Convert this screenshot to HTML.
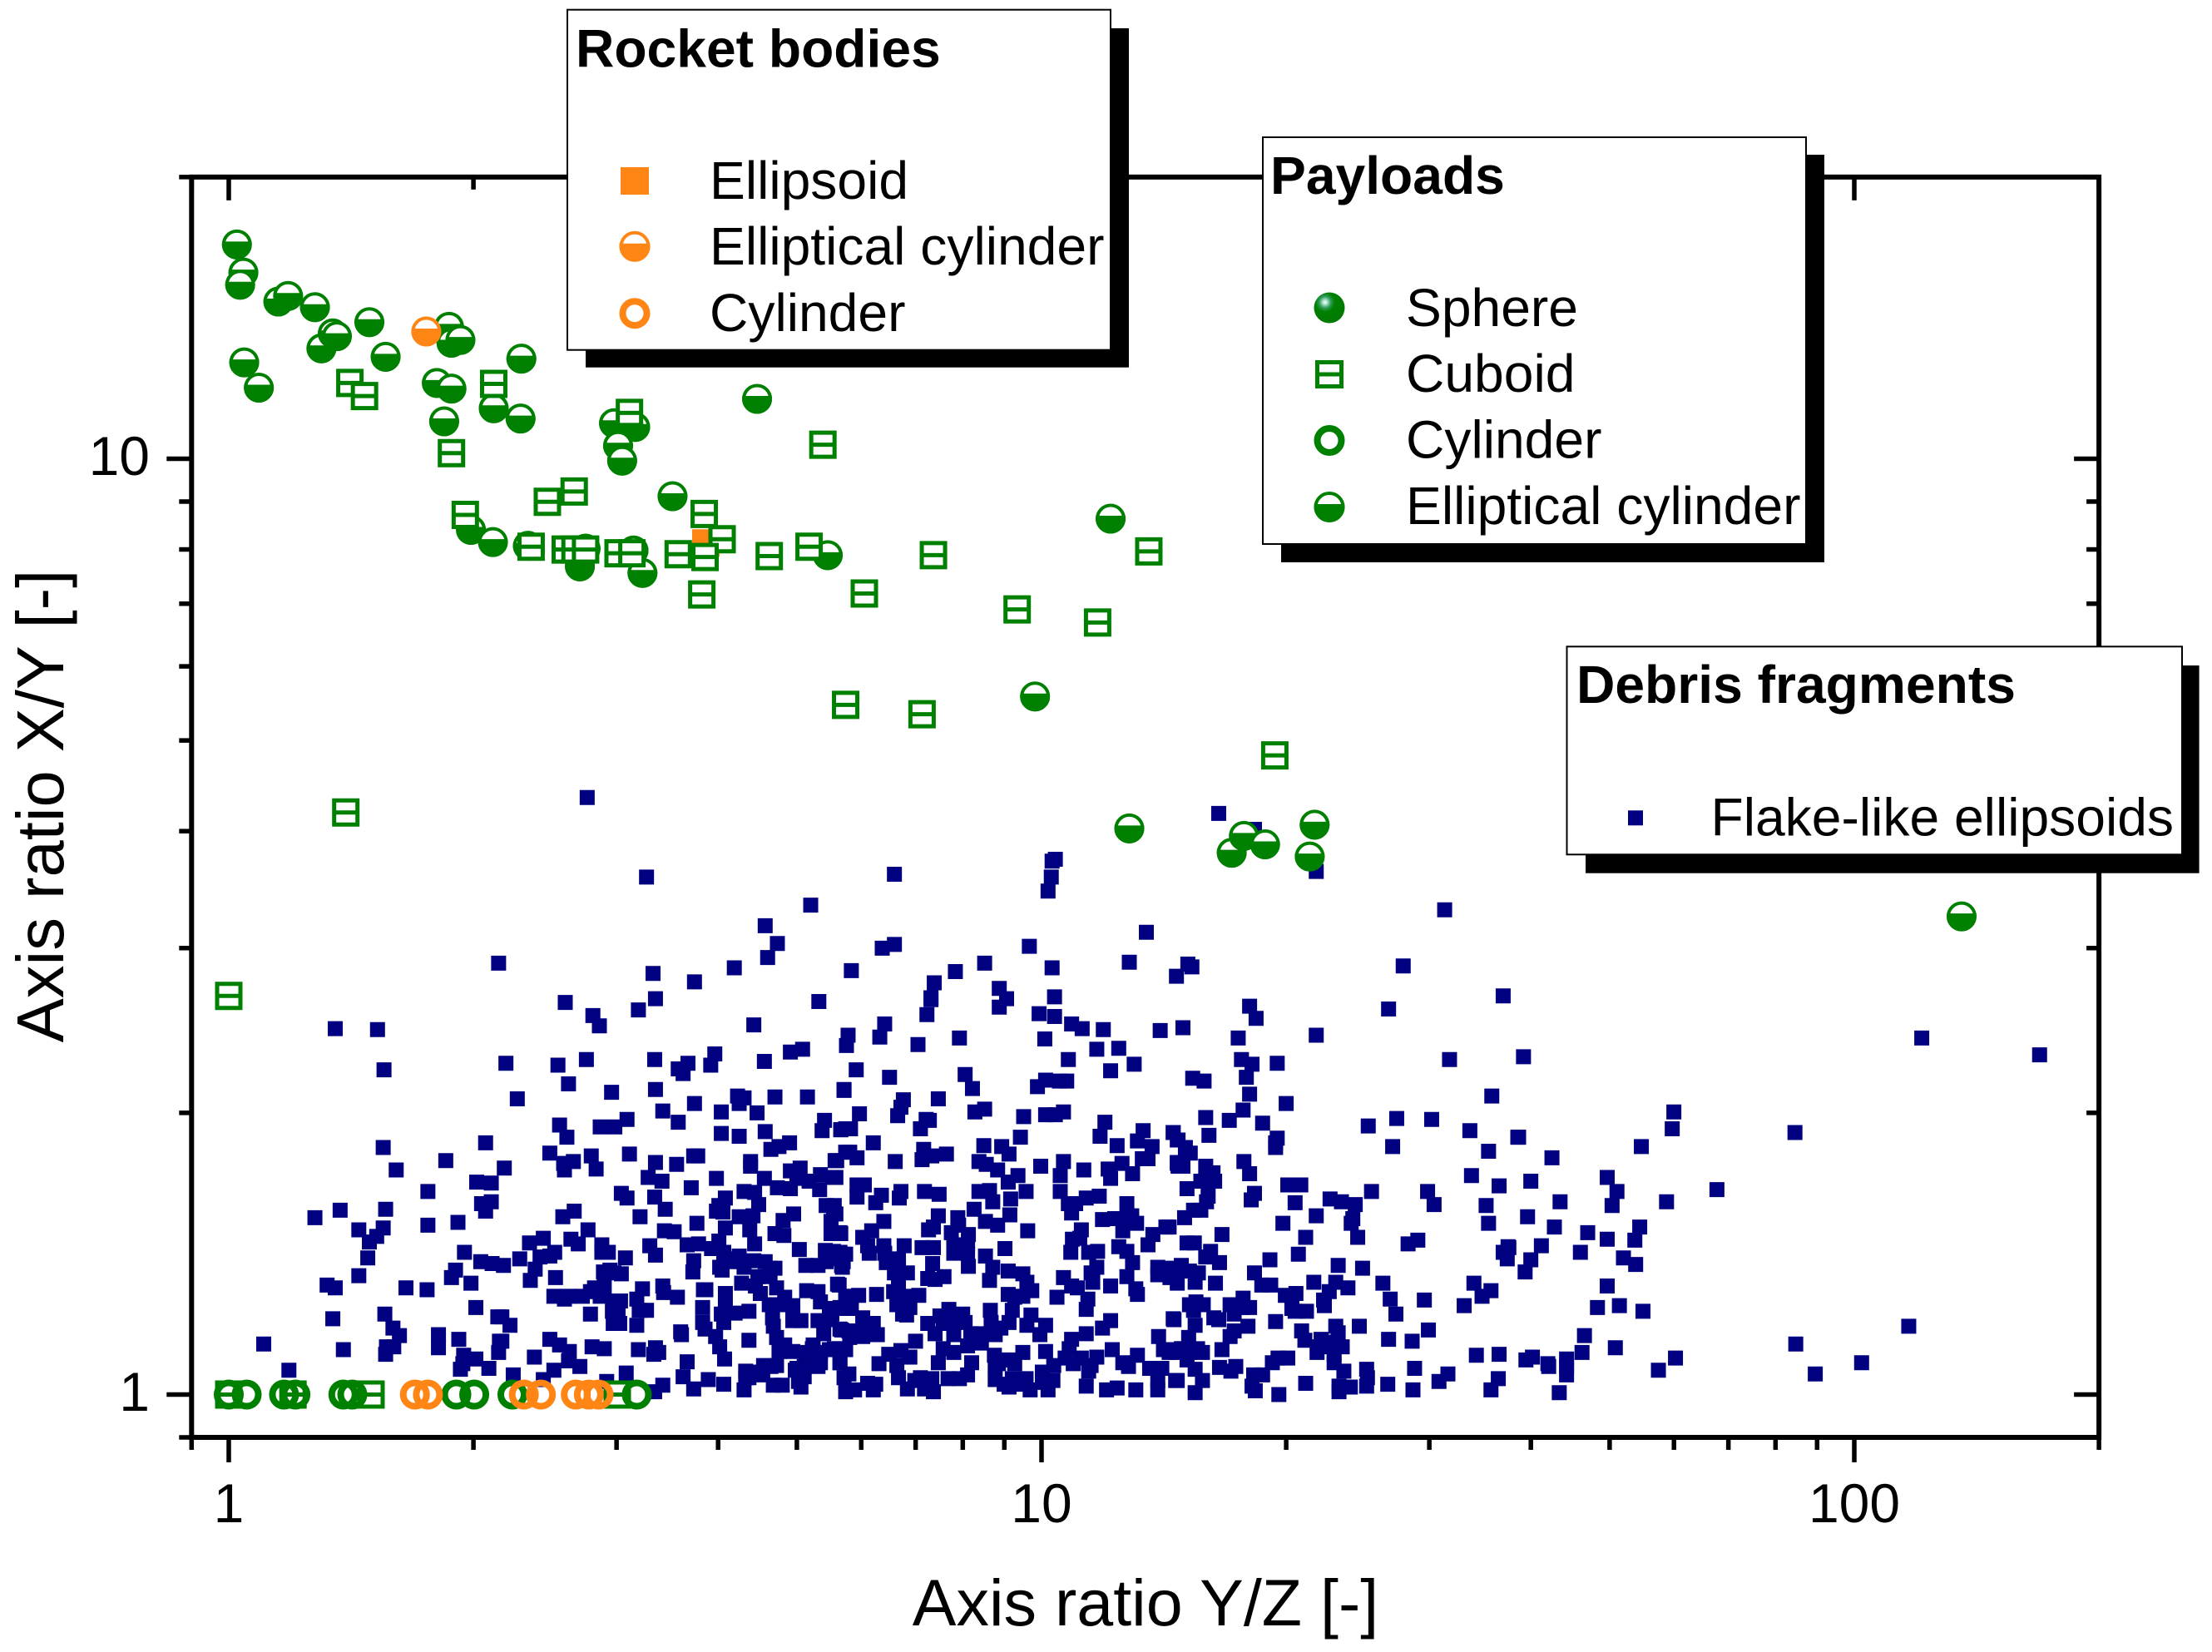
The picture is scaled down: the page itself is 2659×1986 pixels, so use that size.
<!DOCTYPE html>
<html lang="en">
<head>
<meta charset="utf-8">
<title>Axis ratio scatter chart</title>
<style>
html,body{margin:0;padding:0;background:#fff;}
svg{display:block;}
text{font-family:"Liberation Sans",Arial,sans-serif;fill:#000;}
</style>
</head>
<body>
<svg id="chart" xmlns="http://www.w3.org/2000/svg" width="2659" height="1986" viewBox="0 0 2659 1986">
<defs>
<radialGradient id="sphereShade" cx="0.36" cy="0.32" r="0.62">
<stop offset="0" stop-color="#ffffff"/>
<stop offset="0.14" stop-color="#9fdcc0"/>
<stop offset="0.3" stop-color="#2f9c5c"/>
<stop offset="0.5" stop-color="#008000"/>
<stop offset="1" stop-color="#007a00"/>
</radialGradient>
</defs>
<rect x="0" y="0" width="2659" height="1986" fill="#ffffff"/>
<g id="axes"></g>
<g id="marks"></g>
<text x="1377" y="1954" font-size="79" text-anchor="middle">Axis ratio Y/Z [-]</text>
<text x="76" y="969" font-size="79.5" text-anchor="middle" transform="rotate(-90 76 969)">Axis ratio X/Y [-]</text>

<g>
<rect x="704" y="34" width="653" height="407.7" fill="#000"/>
<rect x="682" y="11.7" width="653" height="409" fill="#fff" stroke="#000" stroke-width="2"/>
<text x="692" y="80.7" font-size="64.2" font-weight="bold">Rocket bodies</text>
<rect x="746" y="201" width="34" height="33" fill="#ff8515"/>
<text x="853" y="239" font-size="64.2">Ellipsoid</text>
<circle cx="763" cy="296.3" r="16.5" fill="#fff" stroke="#ff8515" stroke-width="4"/>
<path d="M744.8,292.8 A18.5,18.5 0 1 0 781.2,292.8 Z" fill="#ff8515"/>
<text x="853" y="318" font-size="64.2">Elliptical cylinder</text>
<circle cx="763" cy="376.7" r="14.5" fill="none" stroke="#ff8515" stroke-width="8"/>
<text x="853" y="398" font-size="64.2">Cylinder</text>
</g>

<g>
<rect x="1540" y="186" width="653" height="490" fill="#000"/>
<rect x="1518" y="165" width="653" height="489" fill="#fff" stroke="#000" stroke-width="2"/>
<text x="1527" y="233" font-size="64.2" font-weight="bold">Payloads</text>
<circle cx="1598" cy="370" r="18.5" fill="url(#sphereShade)"/>
<text x="1690" y="392" font-size="64.2">Sphere</text>
<rect x="1583.5" y="435.5" width="29" height="29" fill="#fff" stroke="#008000" stroke-width="5"/>
<line x1="1583" y1="450" x2="1613" y2="450" stroke="#008000" stroke-width="5"/>
<text x="1690" y="471" font-size="64.2">Cuboid</text>
<circle cx="1598" cy="529.5" r="14.5" fill="none" stroke="#008000" stroke-width="8"/>
<text x="1690" y="550.5" font-size="64.2">Cylinder</text>
<circle cx="1598" cy="609.5" r="16.5" fill="#fff" stroke="#008000" stroke-width="4"/>
<path d="M1579.8,606 A18.5,18.5 0 1 0 1616.2,606 Z" fill="#008000"/>
<text x="1690" y="630" font-size="64.2">Elliptical cylinder</text>
</g>

<g>
<rect x="1906" y="800" width="737.6" height="249.7" fill="#000"/>
<rect x="1883.5" y="777.3" width="739.5" height="250" fill="#fff" stroke="#000" stroke-width="2"/>
<text x="1895" y="845" font-size="64.2" font-weight="bold">Debris fragments</text>
<rect x="1957" y="974.3" width="18" height="18" fill="#000080"/>
<text x="2056.5" y="1004.3" font-size="64.2">Flake-like ellipsoids</text>
</g>
</svg>

<script>
// Axis ticks (axis-ratio values) and printed labels
const xMajorTickValues = [1, 10, 100];
const xMajorTickLabels = ['1', '10', '100'];
const xMinorTickValues = [0.9, 2, 3, 4, 5, 6, 7, 8, 9, 20, 30, 40, 50, 60, 70, 80, 90, 200];
const yMajorTickValues = [1, 10];
const yMajorTickLabels = ['1', '10'];
const yMinorTickValues = [0.9, 2, 3, 4, 5, 6, 7, 8, 9, 20];

// All series values below are log10 of the axis ratio
const rocketEllipsoidLogX = [0.587];
const rocketEllipsoidLogY = [0.910];
const rocketEllipticalLogX = [0.243];
const rocketEllipticalLogY = [1.136];
const rocketCylinderLogX = [0.229, 0.245, 0.363, 0.384, 0.427, 0.443, 0.455];
const rocketCylinderLogY = [0, 0, 0, 0, 0, 0, 0];

const payloadEllipticalLogX = [0.010, 0.018, 0.014, 0.061, 0.073, 0.106, 0.173, 0.114, 0.128, 0.133, 0.019, 0.037, 0.193, 0.271, 0.274, 0.285, 0.360, 0.256, 0.274, 0.265, 0.326, 0.359, 0.650, 0.474, 0.500, 0.479, 0.484, 0.546, 0.298, 0.325, 0.368, 0.439, 0.432, 0.498, 0.509, 0.737, 1.085, 0.992, 1.108, 1.234, 1.249, 1.275, 1.336, 1.330, 2.132];
const payloadEllipticalLogY = [1.229, 1.199, 1.186, 1.168, 1.174, 1.162, 1.146, 1.118, 1.134, 1.131, 1.103, 1.076, 1.109, 1.141, 1.124, 1.127, 1.107, 1.081, 1.075, 1.040, 1.054, 1.043, 1.064, 1.038, 1.034, 1.014, 0.998, 0.960, 0.924, 0.911, 0.907, 0.904, 0.885, 0.902, 0.878, 0.897, 0.936, 0.746, 0.605, 0.579, 0.597, 0.588, 0.609, 0.575, 0.511];
const payloadCuboidLogX = [0.149, 0.167, 0.326, 0.493, 0.274, 0.425, 0.392, 0.291, 0.585, 0.607, 0.665, 0.586, 0.553, 0.479, 0.496, 0.414, 0.426, 0.439, 0.372, 0.582, 0.731, 0.714, 0.867, 0.782, 0.970, 1.069, 1.132, 0.759, 0.853, 1.287, 0.144, 0, 0, 0.079, 0.175, 0.478];
const payloadCuboidLogY = [1.081, 1.067, 1.080, 1.049, 1.006, 0.965, 0.954, 0.940, 0.941, 0.914, 0.896, 0.895, 0.898, 0.899, 0.899, 0.903, 0.903, 0.903, 0.906, 0.855, 1.015, 0.906, 0.897, 0.856, 0.839, 0.825, 0.901, 0.737, 0.727, 0.683, 0.622, 0.426, 0, 0, 0, 0];
const payloadCylinderLogX = [0, 0.022, 0.068, 0.082, 0.141, 0.152, 0.280, 0.302, 0.349, 0.502];
const payloadCylinderLogY = [0, 0, 0, 0, 0, 0, 0, 0, 0, 0];

const debrisA1X = [.341,.405,.440,.524,.565,.553,.559,.598,.593,.659,.691,.706];
const debrisA1Y = [.354,.352,.358,.358,.354,.348,.343,.364,.352,.356,.366,.369];
const debrisA2X = [.418,.355,.471,.525,.573,.626,.634,.628,.672,.712,.757];
const debrisA2Y = [.332,.316,.323,.326,.311,.319,.317,.311,.318,.318,.325];
const debrisA3X = [.534,.553,.606,.650,.407,.416,.457,.475,.490,.606,.628,.660,.733,.730,.753,.759];
const debrisA3Y = [.303,.291,.302,.301,.288,.275,.286,.286,.294,.279,.276,.281,.293,.282,.283,.284];
const debrisA4X = [.667,.677,.690,.395,.446,.452,.493,.412,.424,.413,.339,.525,.551,.572,.577,.642,.642,.746,.759];
const debrisA4Y = [.262,.265,.269,.258,.255,.241,.257,.247,.249,.240,.242,.248,.246,.255,.255,.249,.244,.250,.259];
const debrisA5X = [.516,.533,.600,.569,.659,.691,.703,.699,.714,.728,.744,.727,.675,.691,.634,.647,.483,.490,.524,.611,.603,.600,.652];
const debrisA5Y = [.232,.228,.231,.221,.231,.239,.242,.231,.228,.235,.232,.219,.221,.220,.217,.216,.215,.210,.211,.210,.202,.196,.203];
const debrisA6X = [.537,.506,.425,.411,.735,.744,.695,.682,.628,.645,.608,.576,.741,.741,.753,.672,.683,.611,.641,.536,.548,.442,.702,.647];
const debrisA6Y = [.198,.190,.196,.190,.202,.193,.193,.186,.190,.191,.195,.183,.185,.172,.172,.172,.170,.178,.176,.175,.174,.176,.155,.161];
const debrisA7X = [.387,.370,.421,.430,.459,.467,.459,.518,.525,.603,.564,.578,.594,.609,.734,.744,.756,.710,.725,.735,.754];
const debrisA7Y = [.167,.162,.166,.161,.160,.152,.152,.159,.149,.164,.160,.161,.156,.152,.154,.153,.150,.138,.138,.142,.138];
const debrisA8X = [.401,.383,.395,.358,.488,.572,.571,.604,.607,.628,.646,.634,.666,.672,.338,.377,.371,.402,.461,.483,.474,.469];
const debrisA8Y = [.152,.147,.148,.145,.146,.143,.131,.136,.133,.148,.143,.136,.135,.135,.138,.134,.122,.125,.131,.129,.130,.133];
const debrisA9X = [.651,.631,.666,.749,.674,.648,.509,.534,.584,.587,.535,.552,.711,.725,.611,.450,.462,.445,.400,.418,.435,.413,.457,.473,.482,.502,.654,.684,.681,.665,.728,.759];
const debrisA9Y = [.126,.119,.126,.118,.114,.116,.113,.116,.112,.112,.109,.104,.111,.110,.108,.114,.116,.110,.105,.105,.105,.102,.105,.100,.100,.102,.108,.104,.096,.096,.099,.105];
const debrisA10X = [.583,.611,.606,.623,.640,.445,.505,.514,.472,.694,.739,.752,.669,.670,.473,.481,.502,.583,.609,.336,.346,.694,.704,.725,.740];
const debrisA10Y = [.093,.093,.086,.087,.089,.086,.090,.090,.089,.086,.092,.093,.082,.073,.076,.076,.074,.077,.077,.083,.074,.079,.079,.079,.080];
const debrisA11X = [.556,.557,.586,.599,.732,.754,.674,.684,.395,.407,.419,.336,.447,.462,.376,.504,.525,.529,.523,.604,.640,.719,.745,.759,.677,.694,.711,.728];
const debrisA11Y = [.067,.064,.070,.062,.065,.069,.061,.053,.059,.053,.046,.057,.051,.049,.040,.048,.050,.045,.043,.051,.058,.053,.049,.048,.046,.046,.045,.045];
const debrisA12X = [.418,.610,.564,.432,.400,.674,.658,.699,.716,.728,.752,.636,.645,.697,.350,.387,.489,.559,.590,.609,.636,.708,.757,.465,.534,.572,.634,.670,.681,.701,.704,.759,.524];
const debrisA12Y = [.036,.038,.035,.030,.026,.031,.031,.028,.033,.034,.034,.025,.024,.026,.021,.016,.023,.019,.016,.011,.018,.019,.018,.014,.010,.006,.005,.010,.010,.014,.008,.003,.003];

const debrisB1X = [1.033,1.068,1.095,1.114,1.085,.772,.813,.906,.915,.757,1.005,.995,1.022,1.031,.830,.873,.827,.823,.776,.765,.753,.918,.930,.978,1.005,1.017,1.027,1.078,1.072,.858,.851,.862,.974];
const debrisB1Y = [.358,.369,.370,.353,.346,.347,.339,.342,.327,.326,.336,.329,.335,.335,.315,.316,.307,.298,.300,.284,.283,.302,.305,.297,.299,.299,.302,.291,.276,.294,.284,.293,.275];
const debrisB2X = [1.125,1.118,1.136,1.162,1.167,.793,.929,.951,.960,1.093,1.124,1.131,.764,.773,.748,.855,.820,.853,.865,.883,.923,.932,.946,.999,1.027,1.052,1.099,1.082,1.112,1.085,1.167,1.168];
const debrisB2Y = [.282,.271,.265,.280,.272,.269,.266,.265,.257,.266,.252,.252,.259,.253,.250,.262,.249,.251,.255,.257,.249,.246,.240,.244,.249,.240,.247,.241,.236,.231,.248,.244];
const debrisB3X = [.971,.959,1.023,1.023,.747,.782,.773,.773,.803,.796,.827,.825,.856,.874,.923,.936,.940,.962,.981,1.055,1.071,1.033,1.042,1.037,1.105,1.111,1.100,1.075,1.090];
const debrisB3Y = [.234,.227,.234,.217,.232,.224,.224,.211,.213,.205,.217,.210,.217,.214,.217,.218,.206,.209,.217,.210,.212,.204,.204,.194,.204,.191,.188,.187,.188];
const debrisB4X = [.745,.747,.917,.961,.873,.806,.897,.931,.946,.861,.867,.791,.752,.889,.910,.898,.780,1.117,1.100,.983,1.153,1.137,1.131,1.049,1.038,1.047];
const debrisB4Y = [.202,.193,.198,.192,.191,.185,.189,.185,.181,.176,.179,.175,.173,.173,.171,.181,.168,.183,.175,.175,.179,.171,.160,.176,.166,.167];
const debrisB5X = [1.095,1.105,.786,.806,.831,.788,.807,.853,.867,.892,.909,.892,.909,.955,1.036,1.058,1.069,.752,.759,.746,.756,.931,.809,.824,.755,1.112,.910,.866];
const debrisB5Y = [.158,.153,.159,.159,.159,.151,.151,.157,.157,.160,.160,.151,.151,.156,.152,.152,.153,.152,.150,.145,.142,.148,.141,.145,.136,.141,.137,.140];
const debrisB6X = [.940,.959,.977,1.027,1.068,1.061,1.105,1.143,1.153,1.143,1.158,.936,.819,.835,.860,.880,.869,.982,1.037,1.044,1.063,1.085,1.116,1.118,.988,.751];
const debrisB6Y = [.136,.132,.129,.125,.136,.130,.126,.136,.133,.128,.125,.122,.130,.130,.124,.126,.123,.120,.116,.114,.120,.116,.113,.107,.111,.117];
const debrisB7X = [.959,.967,.977,1.019,1.057,1.055,.834,.818,.849,.775,.766,.797,.822,.838,.752,.766,.886,.937,.964,.987,.875,.903,.829,1.085,1.162];
const debrisB7Y = [.107,.104,.105,.104,.102,.091,.105,.110,.106,.106,.105,.107,.096,.093,.092,.092,.091,.090,.090,.085,.084,.086,.086,.079,.081];
const debrisB8X = [.860,.879,.906,.938,.960,.982,1.005,.780,.793,.752,.781,1.075,.798,.869,.892,.913,.943,.998,1.055,1.037,1.144,.764,.780,.845];
const debrisB8Y = [.076,.076,.077,.077,.077,.074,.074,.082,.076,.070,.074,.071,.064,.065,.064,.065,.064,.064,.065,.059,.062,.061,.062,.057];
const debrisB9X = [.752,1.034,.827,.812,.838,.879,.909,1.087,1.068,.977,1.005,.942,1.029,1.049,1.118,1.100,1.150,1.162,.800,.822,.873,.914,.892,.752,.947,.967,1.015,1.061,1.133,1.107,1.148,1.001,1.058];
const debrisB9Y = [.049,.049,.047,.043,.040,.049,.052,.048,.040,.045,.046,.042,.039,.039,.042,.034,.048,.048,.033,.031,.034,.034,.045,.034,.033,.033,.031,.031,.028,.030,.028,.024,.025];
const debrisB10X = [.763,.796,.786,.824,.844,.865,.885,.909,.943,.964,.981,1.014,1.055,1.080,1.093,1.116,1.143,1.165,.770,.793,.835,.856,.867,.960,.986,1.008,1.143];
const debrisB10Y = [.022,.011,.012,.018,.015,.017,.017,.021,.016,.017,.017,.015,.009,.005,.007,.005,.015,.015,.005,.005,.006,.006,.003,.008,.005,.005,.005];

const debrisC1X = [1.246,1.259,1.290,1.502,1.186,1.200,1.252,1.256,1.301,1.554,1.248,1.202,1.231,1.272,1.402,1.437,1.480,1.527,1.586];
const debrisC1Y = [.358,.353,.354,.358,.338,.335,.339,.321,.311,.319,.304,.296,.293,.290,.287,.295,.294,.282,.275];
const debrisC2X = [1.162,1.168,1.206,1.177,1.183,1.288,1.290,1.288,1.432,1.550,1.167,1.174,1.202,1.249,1.211,1.256,1.529,1.196,1.213,1.179,1.303,1.319,1.406,1.475,1.563,1.262,1.258,1.205,1.203,1.483,1.547];
const debrisC2Y = [.280,.272,.277,.264,.258,.269,.274,.264,.265,.260,.247,.244,.244,.249,.237,.236,.234,.228,.228,.220,.224,.224,.217,.217,.223,.215,.208,.212,.206,.203,.202];
const debrisC3X = [1.312,1.355,1.369,1.386,1.187,1.196,1.176,1.383,1.381,1.338,1.297,1.550,1.157,1.222,1.325,1.389,1.179,1.188,1.451,1.463,1.208,1.202,1.316,1.574,1.568,1.573,1.281,1.365,1.395,1.219,1.172,1.158,1.182,1.193];
const debrisC3Y = [.205,.209,.206,.203,.197,.197,.189,.188,.183,.191,.183,.183,.179,.171,.168,.168,.162,.162,.161,.165,.153,.147,.150,.158,.152,.145,.144,.138,.135,.141,.138,.135,.132,.130];
const debrisC4X = [1.167,1.189,1.214,1.262,1.271,1.282,1.335,1.362,1.377,1.420,1.532,1.553,1.313,1.300,1.354,1.248,1.232,1.247,1.256,1.190,1.182,1.199,1.429,1.471,1.542,1.520,1.347,1.348,1.308,1.326,1.312,1.436,1.187];
const debrisC4Y = [.119,.120,.119,.130,.117,.117,.120,.120,.114,.119,.119,.111,.108,.106,.110,.103,.096,.093,.093,.099,.096,.096,.102,.101,.105,.095,.101,.095,.092,.089,.089,.086,.090];
const debrisC5X = [1.163,1.212,1.218,1.237,1.288,1.189,1.254,1.237,1.232,1.320,1.362,1.365,1.391,1.476,1.181,1.427,1.456,1.324,1.344,1.370,1.353,1.174,1.157,1.165,1.182,1.198,1.222];
const debrisC5Y = [.080,.082,.080,.086,.078,.074,.073,.068,.062,.068,.073,.066,.073,.069,.061,.059,.057,.058,.059,.051,.052,.049,.045,.045,.045,.045,.048];
const debrisC6X = [1.339,1.360,1.535,1.563,1.291,1.303,1.284,1.179,1.360,1.189,1.219,1.239,1.233,1.372,1.400,1.459,1.401,1.261,1.272,1.500,1.489,1.167,1.198,1.325,1.562,1.426,1.366,1.380,1.400,1.259,1.263,1.553,1.457,1.292,1.189,1.366];
const debrisC6Y = [.045,.043,.042,.043,.039,.039,.034,.037,.034,.027,.029,.030,.025,.025,.027,.028,.018,.021,.021,.022,.014,.015,.015,.012,.017,.011,.009,.008,.009,.009,.004,.005,.005,.000,.002,.003];

const debrisUpperX = [.441,.332,.514,.819,.716,.660,.675,.663,.804,.819,1.013,1.017,1.012,1.008,1.129,.985,1.218,1.262,1.338,1.496,1.445,.622,.522,.573,.766,.894,.930,.868,1.013,1.108,1.180,1.185,1.166,.948,.957,.948,.864,.864,1.016,.414,.525,.726,.504,.448,.456,.859,.997,1.016,1.037,1.050,1.076,1.256,1.264,1.427,.646,.807,.762,.801,.899,1.004,1.146,1.174,1.242,1.338,.760,.848];
const debrisUpperY = [.638,.461,.553,.556,.523,.501,.482,.467,.477,.481,.570,.572,.553,.538,.494,.479,.621,.604,.559,.518,.458,.456,.450,.441,.453,.452,.461,.440,.456,.462,.460,.457,.447,.434,.423,.414,.424,.422,.425,.419,.423,.420,.411,.405,.394,.406,.407,.404,.396,.391,.390,.415,.402,.412,.395,.396,.384,.382,.381,.380,.389,.392,.381,.384,.373,.374];
const debrisLeftX = [.131,.183,.191,.190,.206,.267,.316];
const debrisLeftY = [.391,.390,.347,.264,.240,.250,.269];
const debrisLowerLeftX = [.245,.305,.323,.311,.323,.316,.106,.137,.193,.160,.190,.245,.282,.182,.173,.171,.160,.290,.310,.324,.279,.274,.298,.121,.131,.218,.244,.304,.128,.192,.331,.202,.210,.258,.258,.283,.194,.203,.193,.043,.141,.289,.304,.288,.285,.320,.332,.333,.074];
const debrisLowerLeftY = [.217,.227,.226,.204,.206,.196,.189,.197,.198,.176,.178,.181,.184,.169,.163,.146,.127,.152,.142,.140,.133,.125,.119,.117,.114,.114,.112,.093,.081,.086,.083,.071,.063,.064,.050,.059,.051,.051,.043,.054,.048,.042,.038,.033,.027,.028,.045,.057,.026];
const debrisRightX = [1.593,1.587,1.628,1.602,1.638,1.598,1.631,1.672,1.696,1.708,1.702,1.778,1.776,1.738,1.927,1.831,1.769,2.083,2.228,1.736,1.730,1.696,1.615,1.575,1.602,1.663,1.716,1.731,1.595,1.696,1.684,1.711,1.740,2.067,1.668,1.706,1.928,2.009,1.952,1.665,1.780,1.759,1.646,1.646,1.646,1.623,1.624,1.596,1.604,1.637,1.568];
const debrisRightY = [.361,.275,.253,.228,.206,.190,.179,.173,.232,.217,.202,.302,.284,.265,.280,.219,.206,.381,.363,.179,.165,.166,.159,.157,.144,.152,.146,.139,.131,.116,.093,.095,.089,.073,.063,.050,.054,.034,.022,.045,.039,.026,.038,.030,.021,.033,.030,.037,.040,.002,.426];
const debrisDenseX = [.892,.926,.926,.950,.943,.960,.851,.899,.954,.974,1.001,1.039,.824,.824,.827,.834,.786,.763,.718,.739,.640,.657,.667,.623,.660,.616,.677,.694,.742,.725,.708,.479,1.172,1.192,1.169,1.342,1.361];
const debrisDenseY = [.077,.065,.055,.071,.031,.037,.018,.017,.011,.011,.013,.033,.133,.120,.098,.085,.071,.068,.049,.048,.018,.021,.030,.145,.142,.142,.096,.095,.086,.030,.030,.091,.049,.049,.133,.051,.056];

const debrisGroups = [
  [debrisA1X, debrisA1Y], [debrisA2X, debrisA2Y], [debrisA3X, debrisA3Y], [debrisA4X, debrisA4Y],
  [debrisA5X, debrisA5Y], [debrisA6X, debrisA6Y], [debrisA7X, debrisA7Y], [debrisA8X, debrisA8Y],
  [debrisA9X, debrisA9Y], [debrisA10X, debrisA10Y], [debrisA11X, debrisA11Y], [debrisA12X, debrisA12Y],
  [debrisB1X, debrisB1Y], [debrisB2X, debrisB2Y], [debrisB3X, debrisB3Y], [debrisB4X, debrisB4Y],
  [debrisB5X, debrisB5Y], [debrisB6X, debrisB6Y], [debrisB7X, debrisB7Y], [debrisB8X, debrisB8Y],
  [debrisB9X, debrisB9Y], [debrisB10X, debrisB10Y],
  [debrisC1X, debrisC1Y], [debrisC2X, debrisC2Y], [debrisC3X, debrisC3Y], [debrisC4X, debrisC4Y],
  [debrisC5X, debrisC5Y], [debrisC6X, debrisC6Y],
  [debrisUpperX, debrisUpperY], [debrisLeftX, debrisLeftY], [debrisLowerLeftX, debrisLowerLeftY], [debrisRightX, debrisRightY],
  [debrisDenseX, debrisDenseY]
];

const SVG_NS = 'http://www.w3.org/2000/svg';
const GREEN = '#008000';
const ORANGE = '#ff8515';
const NAVY = '#000080';
const X_ONE = 275, X_DECADE = 977, Y_ONE = 1676.5, Y_DECADE = 1125;
const X_MIN = 0.9, X_MAX = 200, Y_MIN = 0.9, Y_MAX = 20;

function xAxis(logValue) { return X_ONE + X_DECADE * logValue; }
function yAxis(logValue) { return Y_ONE - Y_DECADE * logValue; }

const axesLayer = document.getElementById('axes');
const marksLayer = document.getElementById('marks');

function shape(parent, tag, props) {
  const el = document.createElementNS(SVG_NS, tag);
  for (const key in props) el.setAttribute(key, props[key]);
  parent.appendChild(el);
  return el;
}

function tickLine(x1, y1, x2, y2, name) {
  const el = shape(axesLayer, 'line', { x1: x1, y1: y1, x2: x2, y2: y2, stroke: '#000', 'stroke-width': 5.5 });
  
  
}

function drawAxes() {
  const left = xAxis(Math.log10(X_MIN)), right = xAxis(Math.log10(X_MAX));
  const top = yAxis(Math.log10(Y_MAX)), bottom = yAxis(Math.log10(Y_MIN));
  const frame = shape(axesLayer, 'rect', { x: left, y: top, width: right - left, height: bottom - top, fill: 'none', stroke: '#000', 'stroke-width': 6 });
  
  

  xMinorTickValues.forEach(function (v) {
    const x = xAxis(Math.log10(v));
    tickLine(x, bottom, x, bottom + 15, 'x-minor-tick');
    tickLine(x, top, x, top + 15, 'x-minor-tick-top');
  });
  xMajorTickValues.forEach(function (v, i) {
    const x = xAxis(Math.log10(v));
    tickLine(x, bottom, x, bottom + 30, 'x-major-tick');
    tickLine(x, top, x, top + 28, 'x-major-tick-top');
    const label = shape(axesLayer, 'text', { x: x, y: 1830, 'font-size': 66, 'text-anchor': 'middle' });
    
    
    label.textContent = xMajorTickLabels[i];
  });
  yMinorTickValues.forEach(function (v) {
    const y = yAxis(Math.log10(v));
    tickLine(left - 15, y, left, y, 'y-minor-tick');
    tickLine(right - 15, y, right, y, 'y-minor-tick-right');
  });
  yMajorTickValues.forEach(function (v, i) {
    const y = yAxis(Math.log10(v));
    tickLine(left - 30, y, left, y, 'y-major-tick');
    tickLine(right - 30, y, right, y, 'y-major-tick-right');
    const label = shape(axesLayer, 'text', { x: 180, y: y + 19.5, 'font-size': 66, 'text-anchor': 'end' });
    
    
    label.textContent = yMajorTickLabels[i];
  });
}

function drawSquare(logX, logY, size, color, name) {
  const el = shape(marksLayer, 'rect', { x: xAxis(logX) - size / 2, y: yAxis(logY) - size / 2, width: size, height: size, fill: color });
  
  
}

function drawHalfCircle(logX, logY, color, name) {
  const cx = xAxis(logX), cy = yAxis(logY);
  const g = shape(marksLayer, 'g', {});
  
  
  shape(g, 'circle', { cx: cx, cy: cy, r: 16, fill: '#fff', stroke: color, 'stroke-width': 4 });
  shape(g, 'path', { d: 'M' + (cx - 17.66) + ',' + (cy - 3.5) + ' A18,18 0 1 0 ' + (cx + 17.66) + ',' + (cy - 3.5) + ' Z', fill: color });
}

function drawRing(logX, logY, color, name) {
  const el = shape(marksLayer, 'circle', { cx: xAxis(logX), cy: yAxis(logY), r: 14, fill: 'none', stroke: color, 'stroke-width': 8 });
  
  
}

function drawCuboid(logX, logY, name) {
  const cx = xAxis(logX), cy = yAxis(logY);
  const g = shape(marksLayer, 'g', {});
  
  
  shape(g, 'rect', { x: cx - 14, y: cy - 14.5, width: 28, height: 29, fill: '#fff', stroke: GREEN, 'stroke-width': 5 });
  shape(g, 'line', { x1: cx - 14, y1: cy, x2: cx + 14, y2: cy, stroke: GREEN, 'stroke-width': 5 });
}

drawAxes();

debrisGroups.forEach(function (group) {
  const xs = group[0], ys = group[1];
  xs.forEach(function (logX, i) {
    drawSquare(logX, ys[i], 18, NAVY, 'debris-flake-point');
  });
});
rocketEllipsoidLogX.forEach(function (logX, i) {
  drawSquare(logX, rocketEllipsoidLogY[i], 33, ORANGE, 'rocket-ellipsoid-point');
});
payloadEllipticalLogX.forEach(function (logX, i) {
  drawHalfCircle(logX, payloadEllipticalLogY[i], GREEN, 'payload-elliptical-cylinder-point');
});
payloadCuboidLogX.forEach(function (logX, i) {
  drawCuboid(logX, payloadCuboidLogY[i], 'payload-cuboid-point');
});
payloadCylinderLogX.forEach(function (logX, i) {
  drawRing(logX, payloadCylinderLogY[i], GREEN, 'payload-cylinder-point');
});
rocketEllipticalLogX.forEach(function (logX, i) {
  drawHalfCircle(logX, rocketEllipticalLogY[i], ORANGE, 'rocket-elliptical-cylinder-point');
});
rocketCylinderLogX.forEach(function (logX, i) {
  drawRing(logX, rocketCylinderLogY[i], ORANGE, 'rocket-cylinder-point');
});
</script>
</body>
</html>
